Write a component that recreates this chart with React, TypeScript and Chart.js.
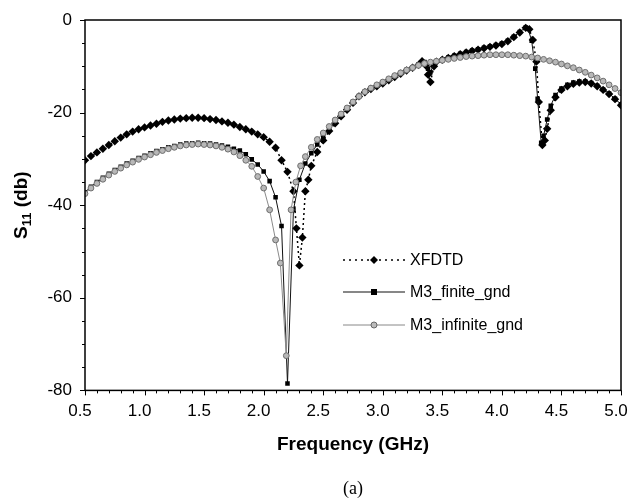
import React, { useEffect, useRef } from 'react';
import { Chart, registerables } from 'chart.js';

Chart.register(...registerables);

// ---------------- data ----------------
const xfdtdFreq = [
  0.5, 0.55, 0.6, 0.65, 0.7, 0.75, 0.8, 0.85, 0.9, 0.95, 1.0, 1.05, 1.1, 1.15, 1.2, 1.25, 1.3, 1.35, 1.4, 1.45,
  1.5, 1.55, 1.6, 1.65, 1.7, 1.75, 1.8, 1.85, 1.9, 1.95, 2.0, 2.05, 2.1, 2.15, 2.2, 2.25, 2.275, 2.3, 2.325, 2.35,
  2.375, 2.4, 2.45, 2.5, 2.55, 2.6, 2.65, 2.7, 2.75, 2.8, 2.85, 2.9, 2.95, 3.0, 3.05, 3.1, 3.15, 3.2, 3.25, 3.3,
  3.33, 3.36, 3.38, 3.4, 3.43, 3.45, 3.5, 3.55, 3.6, 3.65, 3.7, 3.75, 3.8, 3.85, 3.9, 3.95, 4.0, 4.05, 4.1, 4.15,
  4.2, 4.23, 4.26, 4.29, 4.31, 4.34, 4.36, 4.38, 4.41, 4.45, 4.5, 4.55, 4.6, 4.65, 4.7, 4.75, 4.8, 4.85, 4.9, 4.95, 5.0,
];
const xfdtdS11 = [
  -30.3, -29.4, -28.6, -27.8, -27.0, -26.2, -25.4, -24.7, -24.1, -23.6, -23.2, -22.8, -22.4, -22.0, -21.7, -21.5, -21.3, -21.2, -21.1, -21.1,
  -21.2, -21.4, -21.6, -21.9, -22.2, -22.6, -23.1, -23.6, -24.1, -24.7, -25.3, -26.3, -27.6, -30.3, -32.8, -37.0, -45.0, -53.0, -47.0, -37.0,
  -34.5, -31.5, -28.5, -26.0, -24.0, -22.3, -20.8, -19.4, -17.9, -16.5, -15.6, -14.9, -14.3, -13.7, -13.0, -12.3, -11.6, -10.9, -10.3, -9.7,
  -8.9, -9.8, -11.8, -13.4, -10.0, -9.0, -8.6, -8.2, -7.8, -7.4, -7.0, -6.7, -6.4, -6.1, -5.8, -5.5, -5.2, -4.6, -3.7, -2.7,
  -1.7, -2.0, -4.3, -9.0, -17.7, -27.0, -26.0, -23.5, -19.5, -16.7, -15.1, -14.3, -13.8, -13.5, -13.4, -13.7, -14.3, -15.1, -16.0, -17.1, -18.4,
];

const finiteFreq = [
  0.5, 0.55, 0.6, 0.65, 0.7, 0.75, 0.8, 0.85, 0.9, 0.95, 1.0, 1.05, 1.1, 1.15, 1.2, 1.25, 1.3, 1.35, 1.4, 1.45,
  1.5, 1.55, 1.6, 1.65, 1.7, 1.75, 1.8, 1.85, 1.9, 1.95, 2.0, 2.05, 2.1, 2.15, 2.2, 2.25, 2.3, 2.35, 2.4, 2.45,
  2.5, 2.55, 2.6, 2.65, 2.7, 2.75, 2.8, 2.85, 2.9, 2.95, 3.0, 3.05, 3.1, 3.15, 3.2, 3.25, 3.3, 3.35, 3.38, 3.4,
  3.43, 3.45, 3.5, 3.55, 3.6, 3.65, 3.7, 3.75, 3.8, 3.85, 3.9, 3.95, 4.0, 4.05, 4.1, 4.15, 4.2, 4.22, 4.25, 4.28,
  4.3, 4.33, 4.35, 4.38, 4.41, 4.45, 4.5, 4.55, 4.6, 4.65, 4.7, 4.75, 4.8, 4.85, 4.9, 4.95, 5.0,
];
const finiteS11 = [
  -37.2, -36.0, -35.0, -34.1, -33.2, -32.4, -31.7, -31.0, -30.4, -29.8, -29.3, -28.8, -28.3, -27.9, -27.5, -27.2, -26.9, -26.7, -26.6, -26.5,
  -26.6, -26.7, -26.9, -27.1, -27.4, -27.8, -28.2, -29.0, -30.1, -31.2, -32.7, -34.8, -38.3, -44.5, -78.5, -41.0, -34.5, -31.0, -28.8, -26.9,
  -25.2, -23.6, -22.0, -20.6, -19.2, -17.7, -16.4, -15.5, -14.8, -14.2, -13.6, -12.9, -12.2, -11.5, -10.8, -10.2, -9.6, -9.1, -10.5, -11.3,
  -9.4, -8.9, -8.5, -8.1, -7.7, -7.3, -6.9, -6.6, -6.3, -6.0, -5.7, -5.4, -5.1, -4.5, -3.6, -2.6, -1.6, -1.9, -4.5, -10.5,
  -17.0, -26.5, -25.0, -21.5, -18.5, -16.2, -14.8, -14.0, -13.5, -13.3, -13.3, -13.6, -14.2, -15.0, -15.9, -17.0, -18.2,
];

const infiniteFreq = [
  0.5, 0.55, 0.6, 0.65, 0.7, 0.75, 0.8, 0.85, 0.9, 0.95, 1.0, 1.05, 1.1, 1.15, 1.2, 1.25, 1.3, 1.35, 1.4, 1.45,
  1.5, 1.55, 1.6, 1.65, 1.7, 1.75, 1.8, 1.85, 1.9, 1.95, 2.0, 2.05, 2.1, 2.14, 2.19, 2.23, 2.27, 2.31, 2.35, 2.4,
  2.45, 2.5, 2.55, 2.6, 2.65, 2.7, 2.75, 2.8, 2.85, 2.9, 2.95, 3.0, 3.05, 3.1, 3.15, 3.2, 3.25, 3.3, 3.35, 3.4,
  3.45, 3.5, 3.55, 3.6, 3.65, 3.7, 3.75, 3.8, 3.85, 3.9, 3.95, 4.0, 4.05, 4.1, 4.15, 4.2, 4.25, 4.3, 4.35, 4.4,
  4.45, 4.5, 4.55, 4.6, 4.65, 4.7, 4.75, 4.8, 4.85, 4.9, 4.95, 5.0,
];
const infiniteS11 = [
  -37.5, -36.3, -35.3, -34.4, -33.5, -32.7, -32.0, -31.3, -30.7, -30.1, -29.6, -29.1, -28.6, -28.2, -27.8, -27.5, -27.2, -27.0, -26.9, -26.8,
  -26.9, -27.0, -27.2, -27.5, -27.9, -28.5, -29.3, -30.3, -31.6, -33.8, -36.3, -41.0, -47.5, -52.5, -72.5, -41.0, -35.0, -31.5, -29.5, -27.5,
  -25.8, -24.4, -23.0, -21.6, -20.3, -19.0, -17.7, -16.5, -15.5, -14.7, -14.0, -13.4, -12.7, -12.0, -11.4, -10.8, -10.3, -9.8, -9.4, -9.1,
  -8.9, -8.7, -8.5, -8.3, -8.1, -7.9, -7.8, -7.7, -7.6, -7.5, -7.5, -7.5, -7.5, -7.6, -7.7, -7.8, -8.0, -8.2, -8.5, -8.8,
  -9.1, -9.5, -9.9, -10.3, -10.8, -11.3, -11.9, -12.5, -13.2, -14.0, -14.8, -15.7,
];

const xTickValues = [0.5, 1.0, 1.5, 2.0, 2.5, 3.0, 3.5, 4.0, 4.5, 5.0];
const yTickValues = [0, -20, -40, -60, -80];
const legendLabels = ['XFDTD', 'M3_finite_gnd', 'M3_infinite_gnd'];

const SANS = '"Liberation Sans", Arial, sans-serif';

const toPoints = (fs: number[], vs: number[]) => fs.map((f, i) => ({ x: f, y: vs[i] }));

function drawMarker(ctx: CanvasRenderingContext2D, kind: number, cx: number, cy: number) {
  ctx.save();
  if (kind === 0) {
    ctx.fillStyle = '#000';
    ctx.beginPath();
    ctx.moveTo(cx, cy - 4);
    ctx.lineTo(cx + 4, cy);
    ctx.lineTo(cx, cy + 4);
    ctx.lineTo(cx - 4, cy);
    ctx.closePath();
    ctx.fill();
  } else if (kind === 1) {
    ctx.fillStyle = '#000';
    ctx.fillRect(cx - 3, cy - 3, 6, 6);
  } else {
    ctx.fillStyle = '#bbb';
    ctx.strokeStyle = '#666';
    ctx.lineWidth = 1;
    ctx.beginPath();
    ctx.arc(cx, cy, 3, 0, Math.PI * 2);
    ctx.fill();
    ctx.stroke();
  }
  ctx.restore();
}

const decorPlugin = {
  id: 'decor',
  afterDraw(chart: any) {
    const { ctx, chartArea, scales } = chart;
    const { left, right, top, bottom } = chartArea;
    const xs = scales.x;
    const ys = scales.y;
    ctx.save();
    // frame
    ctx.strokeStyle = '#000';
    ctx.lineWidth = 1.5;
    ctx.strokeRect(left, top, right - left, bottom - top);
    // x ticks (major every 0.5, minor every 0.1)
    ctx.lineWidth = 1;
    for (let i = 0; i <= 45; i++) {
      const v = 0.5 + i * 0.1;
      const px = Math.round(xs.getPixelForValue(v)) + 0.5;
      const len = i % 5 === 0 ? 5 : 3;
      ctx.beginPath();
      ctx.moveTo(px, bottom);
      ctx.lineTo(px, bottom + len);
      ctx.stroke();
    }
    // y ticks (major every 20, minor every 5)
    for (let i = 0; i <= 16; i++) {
      const v = -i * 5;
      const py = Math.round(ys.getPixelForValue(v)) + 0.5;
      const len = i % 4 === 0 ? 5 : 3;
      ctx.beginPath();
      ctx.moveTo(left, py);
      ctx.lineTo(left - len, py);
      ctx.stroke();
    }
    // y-axis title with subscript
    const cy = (top + bottom) / 2;
    ctx.translate(14, cy);
    ctx.rotate(-Math.PI / 2);
    ctx.fillStyle = '#000';
    ctx.textBaseline = 'middle';
    const big = 'bold 19px ' + SANS;
    const small = 'bold 13px ' + SANS;
    ctx.font = big;
    const wS = ctx.measureText('S').width;
    const wRest = ctx.measureText(' (db)').width;
    ctx.font = small;
    const wSub = ctx.measureText('11').width;
    let x0 = -(wS + wSub + wRest) / 2;
    ctx.font = big;
    ctx.fillText('S', x0, 0);
    x0 += wS;
    ctx.font = small;
    ctx.fillText('11', x0, 5);
    x0 += wSub;
    ctx.font = big;
    ctx.fillText(' (db)', x0, 0);
    ctx.restore();

    // legend
    ctx.save();
    const rows = [240, 272, 305];
    const lx0 = left + 258;
    const lx1 = left + 320;
    const mx = left + 289;
    const tx = left + 325;
    ctx.font = '16px ' + SANS;
    ctx.textBaseline = 'middle';
    rows.forEach((dy, k) => {
      const yy = top + dy;
      ctx.save();
      if (k === 0) {
        ctx.strokeStyle = '#000';
        ctx.lineWidth = 1.6;
        ctx.setLineDash([2, 4]);
      } else if (k === 1) {
        ctx.strokeStyle = '#111';
        ctx.lineWidth = 1.1;
      } else {
        ctx.strokeStyle = '#888';
        ctx.lineWidth = 1;
      }
      ctx.beginPath();
      ctx.moveTo(lx0, yy);
      ctx.lineTo(lx1, yy);
      ctx.stroke();
      ctx.restore();
      drawMarker(ctx, k, mx, yy);
      ctx.fillStyle = '#000';
      ctx.fillText(legendLabels[k], tx, yy + 1);
    });
    ctx.restore();
  },
};

export default function App() {
  const canvasRef = useRef<HTMLCanvasElement | null>(null);

  useEffect(() => {
    if (!canvasRef.current) return;
    const chart = new Chart(canvasRef.current, {
      type: 'line',
      data: {
        datasets: [
          {
            label: legendLabels[2],
            data: toPoints(infiniteFreq, infiniteS11),
            borderColor: '#8a8a8a',
            borderWidth: 1,
            pointStyle: 'circle',
            pointRadius: 2.9,
            pointBackgroundColor: '#b8b8b8',
            pointBorderColor: '#6e6e6e',
            pointBorderWidth: 1,
            tension: 0,
            order: 1,
          },
          {
            label: legendLabels[1],
            data: toPoints(finiteFreq, finiteS11),
            borderColor: '#111',
            borderWidth: 1,
            pointStyle: 'rect',
            pointRadius: 3.2,
            pointBackgroundColor: '#000',
            pointBorderColor: '#000',
            pointBorderWidth: 0,
            tension: 0,
            order: 2,
          },
          {
            label: legendLabels[0],
            data: toPoints(xfdtdFreq, xfdtdS11),
            borderColor: '#000',
            borderWidth: 1.5,
            borderDash: [2, 3],
            pointStyle: 'rectRot',
            pointRadius: 4.2,
            pointBackgroundColor: '#000',
            pointBorderColor: '#000',
            pointBorderWidth: 0,
            tension: 0,
            order: 3,
          },
        ],
      },
      options: {
        animation: false,
        responsive: true,
        maintainAspectRatio: false,
        layout: { padding: { top: 12, right: 9, left: 0, bottom: 0 } },
        plugins: {
          legend: { display: false },
          tooltip: { enabled: false },
          title: {
            display: true,
            position: 'bottom',
            fullSize: false,
            text: '(a)',
            color: '#000',
            font: { family: '"Liberation Serif", "Times New Roman", serif', size: 18, weight: 'normal' },
            padding: 0,
          },
        },
        scales: {
          x: {
            type: 'linear',
            min: 0.5,
            max: 5.0,
            afterBuildTicks: (scale: any) => {
              scale.ticks = xTickValues.map((v) => ({ value: v }));
            },
            afterFit: (scale: any) => {
              scale.height = 88;
              scale.paddingLeft = 0;
              scale.paddingRight = 0;
            },
            grid: { display: false, drawTicks: false },
            border: { display: false },
            ticks: {
              color: '#000',
              font: { family: SANS, size: 17 },
              padding: 11,
              labelOffset: -5,
              maxRotation: 0,
              autoSkip: false,
              callback: (v: any) => Number(v).toFixed(1),
            },
            title: {
              display: true,
              text: 'Frequency (GHz)',
              color: '#000',
              font: { family: SANS, size: 19, weight: 'bold' },
              padding: { top: 0, bottom: 22 },
            },
          },
          y: {
            type: 'linear',
            min: -80,
            max: 0,
            afterBuildTicks: (scale: any) => {
              scale.ticks = yTickValues.map((v) => ({ value: v }));
            },
            afterFit: (scale: any) => {
              scale.width = 77;
              scale.paddingTop = 0;
              scale.paddingBottom = 0;
            },
            grid: { display: false, drawTicks: false },
            border: { display: false },
            ticks: {
              color: '#000',
              font: { family: SANS, size: 17 },
              padding: 13,
              callback: (v: any) => String(v),
            },
          },
        },
      },
      plugins: [decorPlugin],
    });
    return () => chart.destroy();
  }, []);

  return (
    <div style={{ position: 'relative', width: 622, height: 492 }}>
      <canvas ref={canvasRef} />
    </div>
  );
}
